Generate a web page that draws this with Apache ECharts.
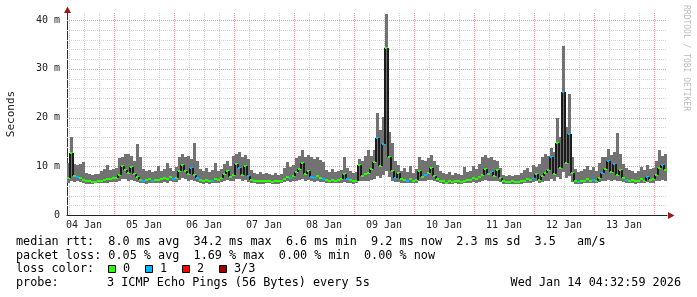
<!DOCTYPE html>
<html><head><meta charset="utf-8">
<script src="https://cdn.jsdelivr.net/npm/echarts@6/dist/echarts.min.js"></script>
<style>html,body{margin:0;padding:0;background:#fff}#c{width:697px;height:297px}</style>
</head><body><div id="c"></div>
<script>
// x positions: hours since 04 Jan 00:00; one sample every 1.2 h
const startHour = 5.2;
const stepHours = 1.2;
const endHour = 245.2;
const dayLabels = ['04 Jan','05 Jan','06 Jan','07 Jan','08 Jan','09 Jan','10 Jan','11 Jan','12 Jan','13 Jan'];
const dayLabelHours = [12,36,60,84,108,132,156,180,204,228];
const yTickValues = [0,10,20,30,40];

// median rtt (ms)
const median = [
 7.6,12.8,8.0,7.8,7.5,7.2,7.0,6.9,6.7,6.8,
 6.9,7.0,7.2,7.4,7.3,7.6,7.5,8.3,10.0,9.2,
 8.6,9.8,8.4,7.8,7.2,7.0,7.1,7.4,7.0,7.2,
 7.1,7.3,7.6,7.4,7.8,7.4,7.6,9.0,10.2,9.0,
 8.5,9.6,8.2,7.6,7.1,7.0,7.2,6.9,7.0,7.3,
 7.1,7.6,8.4,9.0,7.8,8.2,10.4,9.6,8.2,10.0,
 8.0,7.2,7.0,6.9,7.0,6.9,7.0,7.0,6.7,6.9,
 6.9,7.0,7.4,7.8,7.6,7.9,8.8,9.4,10.6,8.5,
 9.0,7.8,7.6,7.9,7.5,7.3,7.1,7.0,7.2,7.0,
 7.1,7.3,8.5,7.4,7.1,6.9,7.0,10.2,8.0,8.4,
 8.6,9.5,10.8,15.8,10.0,14.5,34.2,12.0,9.0,7.6,
 8.6,7.4,7.1,7.0,7.3,7.0,7.2,9.0,7.8,8.2,
 8.6,9.6,7.9,7.4,7.0,6.9,6.6,6.9,6.8,7.0,
 6.9,6.8,7.0,7.1,7.2,7.6,7.3,7.8,8.2,9.4,
 8.4,8.8,7.9,9.2,7.5,6.9,6.7,6.8,6.9,6.8,
 6.7,6.9,7.0,7.3,7.1,7.6,8.4,7.2,8.0,8.6,
 9.2,11.8,8.4,14.8,9.6,25.2,10.6,16.6,8.6,6.9,
 6.7,6.9,7.0,7.4,7.0,7.2,7.0,7.6,8.6,9.4,
 11.0,8.8,10.4,8.2,9.2,7.6,7.2,7.0,7.1,6.9,
 7.0,7.4,7.0,7.8,7.2,7.4,8.2,9.6,10.2,9.2
];
// smoke upper edge (ms)
const smokeHigh = [
 10.6,16.0,10.5,10.2,10.4,10.8,8.6,8.4,8.3,8.5,
 8.4,9.0,9.4,10.2,9.2,9.5,9.6,11.6,12.0,12.5,
 12.6,12.2,11.0,14.5,11.8,9.4,9.0,9.2,8.8,9.0,
 10.0,9.1,9.5,10.6,9.6,9.0,9.8,11.8,12.6,12.0,
 12.2,11.5,14.8,11.0,9.4,9.0,9.6,8.8,9.2,10.6,
 9.0,9.4,10.4,11.0,10.0,12.2,12.6,13.0,11.8,12.4,
 11.4,9.2,8.6,8.4,8.8,8.5,8.6,8.4,8.2,8.6,
 8.2,8.4,9.6,10.9,9.8,10.2,11.6,12.2,13.3,12.0,
 12.4,11.8,11.5,12.0,11.2,10.8,9.2,8.9,9.4,8.8,
 9.0,9.3,11.8,9.6,9.0,8.6,8.8,11.4,11.0,12.2,
 13.3,12.2,13.4,20.9,17.5,20.1,41.2,17.0,14.8,11.0,
 10.2,9.0,9.6,8.8,10.0,8.6,9.4,12.0,11.2,11.0,
 11.6,12.4,11.0,10.2,9.0,8.6,8.4,8.8,8.3,8.6,
 8.4,8.2,9.8,8.8,9.0,10.0,9.4,10.4,11.8,12.3,
 11.6,12.0,11.2,11.0,9.6,8.2,8.0,8.2,8.1,8.3,
 8.2,8.6,9.2,9.6,8.8,10.2,9.8,10.4,11.8,12.6,
 12.2,13.8,13.0,19.9,16.0,34.7,18.0,24.8,12.0,9.4,
 8.8,9.0,9.4,10.0,9.2,9.8,9.0,10.6,11.8,12.0,
 13.6,12.4,13.0,16.8,12.6,10.4,9.6,9.2,9.0,8.6,
 9.0,9.8,9.2,10.2,9.4,9.6,11.0,13.3,12.2,12.6
];
// smoke lower edge (ms)
const smokeLow = [
 6.6,7.0,6.8,6.9,6.7,6.5,6.4,6.4,6.4,6.5,
 6.5,6.5,6.6,6.6,6.7,6.8,6.7,7.0,7.3,7.4,
 7.0,7.2,6.9,6.8,6.6,6.5,6.4,6.6,6.5,6.6,
 6.5,6.6,6.7,6.6,6.9,6.7,6.8,7.2,7.5,7.3,
 7.0,7.2,6.9,6.8,6.5,6.4,6.5,6.4,6.5,6.6,
 6.5,6.7,7.0,7.2,6.9,7.0,7.4,7.3,7.0,7.2,
 6.8,6.6,6.5,6.4,6.4,6.4,6.5,6.5,6.4,6.4,
 6.4,6.5,6.7,6.9,6.8,6.9,7.0,7.2,7.3,7.0,
 7.1,6.9,6.8,6.9,6.7,6.7,6.6,6.5,6.6,6.5,
 6.6,6.6,6.8,6.6,6.5,6.4,6.5,7.0,6.9,7.0,
 7.0,7.1,7.4,8.0,7.6,8.2,9.0,7.8,7.0,6.8,
 6.8,6.6,6.5,6.5,6.6,6.5,6.6,7.0,6.9,7.0,
 7.1,7.2,6.9,6.7,6.5,6.4,6.3,6.4,6.4,6.5,
 6.4,6.4,6.5,6.5,6.6,6.7,6.6,6.8,6.9,7.1,
 7.0,7.0,6.9,7.0,6.7,6.4,6.4,6.4,6.4,6.4,
 6.4,6.4,6.5,6.6,6.5,6.7,6.9,6.6,6.8,7.0,
 7.0,7.4,7.0,7.8,7.3,8.8,7.5,8.0,6.8,6.4,
 6.4,6.4,6.5,6.6,6.5,6.6,6.5,6.7,6.9,7.0,
 7.2,7.0,7.2,6.9,7.0,6.7,6.6,6.5,6.5,6.4,
 6.5,6.6,6.5,6.8,6.6,6.6,6.9,7.0,7.1,7.0
];
// samples where 1 of 3 pings was lost (drawn blue)
const lostOnePing = [3,25,28,35,41,43,48,57,60,74,81,82,85,93,103,105,109,113,119,141,155,161,165,167,170,175,178,180,182,186,193,198];

const lossColors = ['#26ff00','#00b8ff','#ff0000','#a00000'];
const lossLabels = ['0','1','2','3/3'];

const rows = median.map((m, i) => [
  startHour + stepHours * i, smokeLow[i], smokeHigh[i], m,
  i > 0 ? median[i - 1] : m, lostOnePing.indexOf(i) >= 0 ? 1 : 0
]);

function renderItem(params, api) {
  const x0 = api.value(0), lo = api.value(1), hi = api.value(2);
  const med = api.value(3), prev = api.value(4), loss = api.value(5);
  const pLo = api.coord([x0, lo]);
  const pHi = api.coord([x0, hi]);
  const pMed = api.coord([x0, med]);
  const pPrev = api.coord([x0, prev]);
  const w = Math.round(api.size([stepHours, 0])[0]);
  const xl = Math.round(pLo[0]);
  const yHi = Math.round(pHi[1]), yLo = Math.round(pLo[1]);
  const yMed = Math.round(pMed[1]), yPrev = Math.round(pPrev[1]);
  const children = [{
    type: 'rect',
    shape: { x: xl, y: yHi, width: w, height: yLo - yHi },
    style: { fill: '#727272' }
  }];
  const d = Math.abs(yMed - yPrev);
  if (d > 2) {
    children.push({
      type: 'rect',
      shape: { x: xl - 1, y: Math.min(yMed, yPrev), width: 2, height: d },
      style: { fill: '#1c1c1c' }
    });
  }
  children.push({
    type: 'rect',
    shape: { x: xl, y: yMed - 1, width: w, height: 2 },
    style: { fill: lossColors[loss] }
  });
  return { type: 'group', children };
}

// grid lines: value, orientation and weight
const gridValues = [];
const gridHorizontal = [];
const gridMajor = [];
for (let h = 6; h <= endHour; h += 6) { gridValues.push(h); gridHorizontal.push(false); gridMajor.push(h % 24 === 0); }
for (let v = 2; v <= 40; v += 2) { gridValues.push(v); gridHorizontal.push(true); gridMajor.push(v % 10 === 0); }

function renderGrid(params, api) {
  const i = params.dataIndex;
  const v = gridValues[i];
  const cs = params.coordSys;
  const style = { stroke: gridMajor[i] ? '#f09696' : '#d2d2d2', lineWidth: 1, lineDash: [1, 1] };
  if (!gridHorizontal[i]) {
    const x = Math.round(api.coord([v, 0])[0]) + 0.5;
    return { type: 'line', shape: { x1: x, y1: cs.y, x2: x, y2: cs.y + cs.height }, style };
  }
  const y = Math.round(api.coord([startHour, v])[1]) + 0.5;
  return { type: 'line', shape: { x1: cs.x, y1: y, x2: cs.x + cs.width, y2: y }, style };
}

const MONO = '"DejaVu Sans Mono", monospace';
const LF = 11.8;
function txt(text, x, y, extra) {
  return Object.assign({ type: 'text', x: x, y: y, silent: true,
    style: Object.assign({ text: text, fontFamily: MONO, fontSize: LF, fill: '#000', verticalAlign: 'middle', align: 'left' }, extra || {}) });
}
const graphics = [
  txt('median rtt:  8.0 ms avg  34.2 ms max  6.6 ms min  9.2 ms now  2.3 ms sd  3.5   am/s', 16, 241.5),
  txt('packet loss: 0.05 % avg  1.69 % max  0.00 % min  0.00 % now', 16, 255.5),
  txt('loss color:', 16, 269),
  txt('probe:', 16, 283),
  txt('3 ICMP Echo Pings (56 Bytes) every 5s', 107, 283),
  txt('Wed Jan 14 04:32:59 2026', 681, 283, { align: 'right' }),
  { type: 'text', x: 686, y: 5, rotation: -Math.PI / 2, silent: true,
    style: { text: 'RRDTOOL / TOBI OETIKER', fontFamily: MONO, fontSize: 8, fill: '#bdbdbd', align: 'left', verticalAlign: 'middle' } },
  { type: 'polygon', silent: true, shape: { points: [[67.5, 6.5], [64, 13], [71, 13]] }, style: { fill: '#a01818' } },
  { type: 'polygon', silent: true, shape: { points: [[674.5, 215.5], [668, 212], [668, 219]] }, style: { fill: '#a01818' } }
];
lossLabels.forEach((lab, i) => {
  graphics.push({ type: 'rect', silent: true, shape: { x: 108.5 + 37 * i, y: 265.5, width: 7, height: 7 },
    style: { fill: lossColors[i], stroke: '#000', lineWidth: 1 } });
  graphics.push(txt(lab, 123 + 37 * i, 269));
});

const chart = echarts.init(document.getElementById('c'), null, { renderer: 'canvas' });
chart.setOption({
  animation: false,
  backgroundColor: '#ffffff',
  grid: { left: 67, top: 13, width: 600, height: 202, containLabel: false, outerBoundsMode: 'none' },
  xAxis: {
    type: 'value', min: startHour, max: endHour,
    axisLine: { show: true, lineStyle: { color: '#222', width: 1 } },
    axisTick: { show: false },
    splitLine: { show: false },
    axisLabel: {
      customValues: dayLabelHours,
      formatter: v => dayLabels[Math.round((v - 12) / 24)] || '',
      fontFamily: MONO, fontSize: 10, color: '#222', margin: 5
    }
  },
  yAxis: {
    type: 'value', min: 0, max: 41.44, interval: 10,
    name: 'Seconds', nameLocation: 'middle', nameGap: 50, nameRotate: 90,
    nameTextStyle: { fontFamily: MONO, fontSize: 11, color: '#222' },
    axisLine: { show: true, lineStyle: { color: '#333', width: 1 } },
    axisTick: { show: false },
    splitLine: { show: false },
    axisLabel: {
      formatter: v => (yTickValues.indexOf(v) < 0 ? '' : (v === 0 ? '0' : v + ' m')),
      fontFamily: MONO, fontSize: 10, color: '#222', margin: 7
    }
  },
  series: [
    { type: 'custom', z: 1, silent: true, renderItem: renderGrid, data: gridValues,
      clip: false },
    { type: 'custom', z: 2, silent: true, renderItem: renderItem, data: rows,
      encode: { x: 0, y: [1, 2] }, clip: true }
  ],
  graphic: graphics
});
</script>
</body></html>
